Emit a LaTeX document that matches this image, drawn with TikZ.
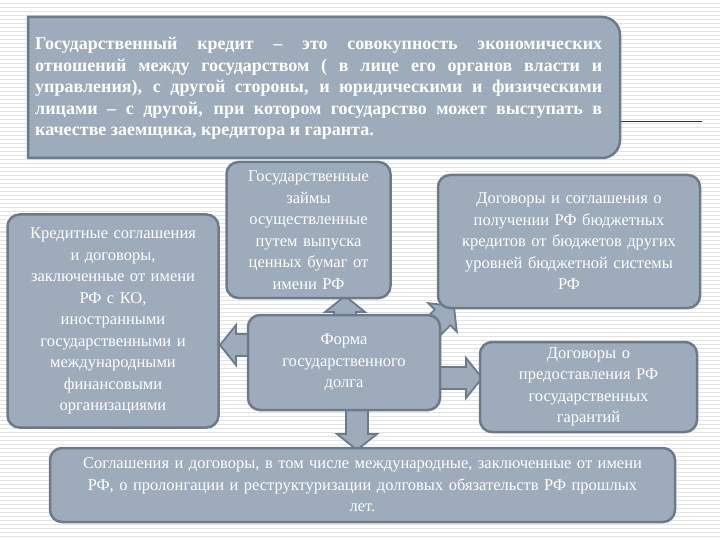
\documentclass[tikz,border=0pt]{standalone}
\usepackage{fontspec}
\setmainfont{Liberation Serif}
\definecolor{boxf}{HTML}{9DABBA}
\definecolor{boxd}{HTML}{6B7B8B}
\definecolor{stripe}{HTML}{E4E4E4}
\tikzset{
  box/.style={draw=boxd, line width=2.5pt, fill=boxf, rounded corners=12pt, text=white, align=center, font=\fontsize{16.5}{21.5}\selectfont, inner sep=3pt},
  barrowst/.style={draw=boxd, line width=1.8pt, fill=boxf, line join=miter}
}
\newcommand\blockarr[4]{% x y angle length
  \begin{scope}[shift={(#1,#2)}, rotate=#3]
  \draw[barrowst] (0,-11) -- ({#4-16},-11) -- ({#4-16},-20) -- (#4,0) -- ({#4-16},20) -- ({#4-16},11) -- (0,11) -- cycle;
  \end{scope}}
\begin{document}
\begin{tikzpicture}[x=1pt,y=-1pt]
\useasboundingbox (0,0) rectangle (720,540);
\fill[white] (0,0) rectangle (720,540);
\foreach \i in {0,4,...,540} \draw[stripe, line width=1pt] (0,\i) -- (720,\i);
\draw[red!60!black, line width=1pt] (600,122) -- (702,122);
% top definition box
\draw[boxd, line width=2.5pt, fill=boxf] (28,17) -- (600,17) [rounded corners=18pt] -- (620,17) -- (620,158) [sharp corners] -- (28,158) -- cycle;
\node[text=white, font=\bfseries\fontsize{18}{21.5}\selectfont, text width=567pt, align=justify, anchor=north west, inner sep=0pt] (def) at (35,37)
{Государственный кредит -- это совокупность экономических отношений между государством ( в лице его органов власти и управления), с другой стороны, и юридическими и физическими лицами -- с другой, при котором государство может выступать в качестве заемщика, кредитора и гаранта.};
% arrows behind center
\blockarr{345}{330}{90}{34}
\blockarr{260}{345}{180}{40}
\blockarr{420}{340}{45}{48}
\blockarr{425}{378}{0}{57}
\blockarr{357}{395}{-90}{55}
% boxes
\node[box, minimum width=210pt, minimum height=213pt, text width=205pt] (l) at (113,321) {Кредитные соглашения\\ и договоры,\\ заключенные от имени\\ РФ с КО,\\ иностранными\\ государственными и\\ международными\\ финансовыми\\ организациями};
\node[box, minimum width=163pt, minimum height=136pt, text width=158pt] (tc) at (308.5,230) {Государственные\\ займы\\ осуществленные\\ путем выпуска\\ ценных бумаг от\\ имени РФ};
\node[box, minimum width=262pt, minimum height=133pt, text width=245pt] (tr) at (569,241.5) {Договоры и соглашения о\\ получении РФ бюджетных\\ кредитов от бюджетов других\\ уровней бюджетной системы\\ РФ};
\node[box, minimum width=192pt, minimum height=95pt, text width=185pt] (c) at (344,362.5) {Форма\\ государственного\\ долга};
\node[box, minimum width=217pt, minimum height=90pt, text width=210pt] (rb) at (588.5,387) {Договоры о\\ предоставления РФ\\ государственных\\ гарантий};
\node[box, minimum width=625pt, minimum height=74pt, text width=610pt] (b) at (362.5,485) {Соглашения и договоры, в том числе международные, заключенные от имени\\ РФ, о пролонгации и реструктуризации долговых обязательств РФ прошлых\\ лет.};
\end{tikzpicture}
\end{document}
